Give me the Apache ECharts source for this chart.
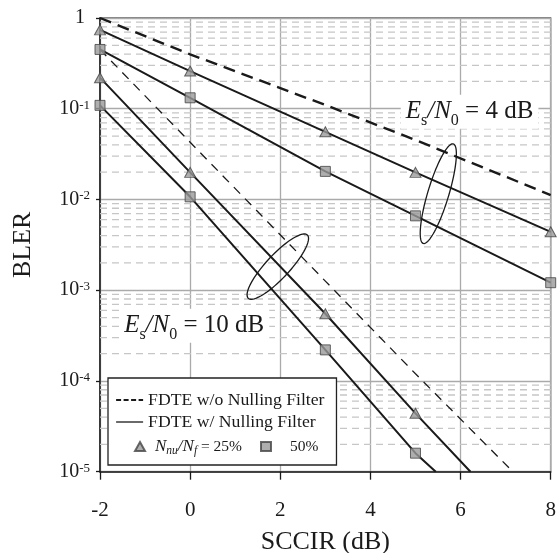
<!DOCTYPE html>
<html><head><meta charset="utf-8">
<script src="https://cdn.jsdelivr.net/npm/echarts@6/dist/echarts.min.js"></script>
<style>html,body{margin:0;padding:0;background:#fff}#c{width:557px;height:553px}</style>
</head><body><div id="c"></div>
<script>
// ---- data ----
const sccir = [-2, 0, 3, 5, 8];           // Es/N0 = 4 dB points
const sccir10 = [-2, 0, 3, 5];            // Es/N0 = 10 dB marker points
// Es/N0 = 4 dB
const bler4NoFilter = [1.0, 0.398, 0.11, 0.0452, 0.0112];
const bler4Nu25 = [0.74, 0.26, 0.0557, 0.0199, 0.0044];
const bler4Nu50 = [0.45, 0.132, 0.0204, 0.0066, 0.00121];
// Es/N0 = 10 dB
const sccir10NoFilter = [-2, 0, 3, 5, 7.16];
const bler10NoFilter = [0.45, 0.0427, 0.00126, 0.00012, 0.00001];
const bler10Nu25 = [0.22, 0.0199, 0.00055, 0.000044];
const bler10Nu50 = [0.109, 0.0107, 0.00022, 0.000016];
const exit10Nu25 = [6.22, 0.00001];       // where the line leaves the plot
const exit10Nu50 = [5.45, 0.00001];
const xTickLabels = ['-2', '0', '2', '4', '6', '8'];
const yTickExps = [0, -1, -2, -3, -4, -5];
const minorMantissas = [2, 3, 4, 5, 6, 7, 8, 9];

// ---- annotations ----
const ellipses = [
  {center: [5.506, 0.01159], rx: 52, ry: 10.5, angle: -73.2},
  {center: [1.945, 0.00182], rx: 43.3, ry: 11.7, angle: -47}
];
const notes = [
  {pos: [6.2, 0.0925], text: '{i|E}{sub|s}{i|/N}{sub|0}{t| = 4 dB}'},
  {pos: [0.09, 0.000405], text: '{i|E}{sub|s}{i|/N}{sub|0}{t| = 10 dB}'}
];

const FONT = 'Liberation Serif';
const INK = '#1a1a1a';
const pairs = (xs, ys) => xs.map((x, i) => [x, ys[i]]);
const minorValues = [];
yTickExps.slice(1).forEach(e => minorMantissas.forEach(m => minorValues.push(m * Math.pow(10, e))));

const NAME_WO = 'FDTE w/o Nulling Filter';
const NAME_W = 'FDTE w/ Nulling Filter';

const markerStyle = {color: '#9a9a9a', borderColor: '#444', borderWidth: 1};

const chart = echarts.init(document.getElementById('c'), null, {renderer: 'canvas'});
chart.setOption({
  animation: false,
  backgroundColor: '#fff',
  grid: {left: 100, right: 6.3, top: 18, bottom: 81.3, show: true, borderColor: '#555', borderWidth: 1.3,
    containLabel: false, outerBoundsMode: 'none'},
  xAxis: {
    type: 'value', min: -2, max: 8, interval: 2,
    name: 'SCCIR (dB)', nameLocation: 'middle', nameGap: 57,
    nameTextStyle: {fontFamily: FONT, fontSize: 26, color: INK},
    axisLine: {onZero: false, lineStyle: {color: INK, width: 1.5}},
    axisTick: {show: true, length: 8, inside: false, lineStyle: {color: INK, width: 1.3}},
    axisLabel: {fontFamily: FONT, fontSize: 21, color: INK, margin: 28,
      formatter: v => xTickLabels[Math.round((v + 2) / 2)]},
    splitLine: {show: true, lineStyle: {color: '#aaa', width: 1.3}}
  },
  yAxis: {
    type: 'log', logBase: 10, min: 1e-5, max: 1,
    name: 'BLER', nameLocation: 'middle', nameGap: 64,
    nameTextStyle: {fontFamily: FONT, fontSize: 26, color: INK},
    axisLine: {show: true, onZero: false, lineStyle: {color: INK, width: 1.5}},
    axisTick: {show: true, length: 4, lineStyle: {color: INK, width: 1.3}},
    axisLabel: {
      margin: 10, color: INK,
      formatter: v => {
        const e = Math.round(Math.log10(v));
        return e === 0 ? '{b|1}{pad|}' : '{b|10}{s|' + e + '}';
      },
      rich: {
        b: {fontFamily: FONT, fontSize: 20, color: INK},
        s: {fontFamily: FONT, fontSize: 13, color: INK, verticalAlign: 'top', padding: [0, 0, 4, 0]},
        pad: {width: 5}
      }
    },
    splitLine: {show: true, lineStyle: {color: '#aaa', width: 1.3}}
  },
  legend: [
    {
      data: [
        {name: NAME_WO, itemStyle: {opacity: 0}, lineStyle: {type: [5, 2.5], width: 2.2, color: INK}},
        {name: NAME_W, itemStyle: {opacity: 0}, lineStyle: {type: 'solid', width: 1.3, color: INK}}
      ],
      orient: 'vertical', left: 108, top: 378,
      padding: [12, 12, 33, 7], itemGap: 2, itemWidth: 27, itemHeight: 14,
      backgroundColor: '#fff', borderColor: '#222', borderWidth: 1.3, borderRadius: 0,
      selectedMode: false,
      textStyle: {fontFamily: FONT, fontSize: 17.7, color: INK, lineHeight: 20}
    },
    {
      data: ['25%', '50%'], z: 6,
      orient: 'horizontal', left: 134, top: 438, padding: 0,
      itemWidth: 10, itemHeight: 9, itemGap: 18, selectedMode: false,
      formatter: n => n === '25%'
        ? '{i0|N}{sub|nu}{i|/N}{sub|f}{t| = 25%}'
        : '{t2|50%}',
      textStyle: {
        fontFamily: FONT, fontSize: 15.5, color: INK,
        rich: {
          i0: {fontFamily: FONT, fontStyle: 'italic', fontSize: 17, color: INK, padding: [0, 0, 0, 5]},
          i: {fontFamily: FONT, fontStyle: 'italic', fontSize: 17, color: INK},
          sub: {fontFamily: FONT, fontStyle: 'italic', fontSize: 11.5, color: INK, verticalAlign: 'bottom', padding: [8, 0, 0, 0]},
          t: {fontFamily: FONT, fontSize: 15.5, color: INK},
          t2: {fontFamily: FONT, fontSize: 15.5, color: INK, padding: [0, 0, 0, 14]}
        }
      }
    }
  ],
  series: [
    {
      type: 'custom', name: 'minor-grid', z: 1, silent: true,
      data: minorValues.map(v => [-2, v]),
      renderItem: (params, api) => {
        const cs = params.coordSys;
        const p = api.coord([api.value(0), api.value(1)]);
        return {type: 'line', shape: {x1: cs.x, y1: p[1], x2: cs.x + cs.width, y2: p[1]},
          style: {stroke: '#c6c6c6', lineWidth: 1.3, lineDash: [7, 5]}};
      }
    },
    {type: 'line', name: NAME_WO, data: pairs(sccir, bler4NoFilter), symbol: 'none', z: 3, clip: true,
      itemStyle: {color: INK}, lineStyle: {color: INK, width: 2.4, type: [12, 7]}},
    {type: 'line', name: NAME_WO, data: pairs(sccir10NoFilter, bler10NoFilter), symbol: 'none', z: 3, clip: true,
      itemStyle: {color: INK}, lineStyle: {color: INK, width: 1.3, type: [9, 7]}},
    {type: 'line', name: NAME_W, data: pairs(sccir, bler4Nu25), symbol: 'none', z: 3, clip: true,
      itemStyle: {color: INK}, lineStyle: {color: INK, width: 2}},
    {type: 'line', name: NAME_W, data: pairs(sccir, bler4Nu50), symbol: 'none', z: 3, clip: true,
      itemStyle: {color: INK}, lineStyle: {color: INK, width: 2}},
    {type: 'line', name: NAME_W, data: pairs(sccir10, bler10Nu25).concat([exit10Nu25]), symbol: 'none', z: 3, clip: true,
      itemStyle: {color: INK}, lineStyle: {color: INK, width: 2}},
    {type: 'line', name: NAME_W, data: pairs(sccir10, bler10Nu50).concat([exit10Nu50]), symbol: 'none', z: 3, clip: true,
      itemStyle: {color: INK}, lineStyle: {color: INK, width: 2}},
    {type: 'scatter', name: '25%', data: pairs(sccir, bler4Nu25), symbol: 'triangle', symbolSize: [11, 10], z: 4,
      itemStyle: markerStyle, clip: false},
    {type: 'scatter', name: '25%', data: pairs(sccir10, bler10Nu25), symbol: 'triangle', symbolSize: [11, 10], z: 4,
      itemStyle: markerStyle, clip: false},
    {type: 'scatter', name: '50%', data: pairs(sccir, bler4Nu50), symbol: 'rect', symbolSize: 10, z: 4,
      itemStyle: markerStyle, clip: false},
    {type: 'scatter', name: '50%', data: pairs(sccir10, bler10Nu50), symbol: 'rect', symbolSize: 10, z: 4,
      itemStyle: markerStyle, clip: false},
    {
      type: 'custom', name: 'ellipses', z: 4, silent: true,
      data: ellipses.map(e => e.center),
      renderItem: (params, api) => {
        const e = ellipses[params.dataIndex];
        const c = api.coord([api.value(0), api.value(1)]);
        const a = e.angle * Math.PI / 180;
        const pts = [];
        for (let k = 0; k <= 90; k++) {
          const t = k / 90 * 2 * Math.PI;
          const px = e.rx * Math.cos(t), py = e.ry * Math.sin(t);
          pts.push([c[0] + px * Math.cos(a) - py * Math.sin(a), c[1] + px * Math.sin(a) + py * Math.cos(a)]);
        }
        return {type: 'polyline', shape: {points: pts}, style: {stroke: INK, lineWidth: 1.3, fill: null}};
      }
    },
    {
      type: 'custom', name: 'notes', z: 5, silent: true,
      data: notes.map(n => n.pos),
      renderItem: (params, api) => {
        const c = api.coord([api.value(0), api.value(1)]);
        return {
          type: 'text', x: c[0], y: c[1],
          style: {
            text: notes[params.dataIndex].text, align: 'center', verticalAlign: 'middle',
            backgroundColor: '#fff', padding: [4, 5, 0, 5], fill: INK,
            rich: {
              i: {fontFamily: FONT, fontStyle: 'italic', fontSize: 25, fill: INK, verticalAlign: 'top'},
              sub: {fontFamily: FONT, fontSize: 16, fill: INK, verticalAlign: 'top', padding: [14, 0, 0, 0]},
              t: {fontFamily: FONT, fontSize: 25, fill: INK, verticalAlign: 'top'}
            }
          }
        };
      }
    }
  ]
});
</script>
</body></html>
